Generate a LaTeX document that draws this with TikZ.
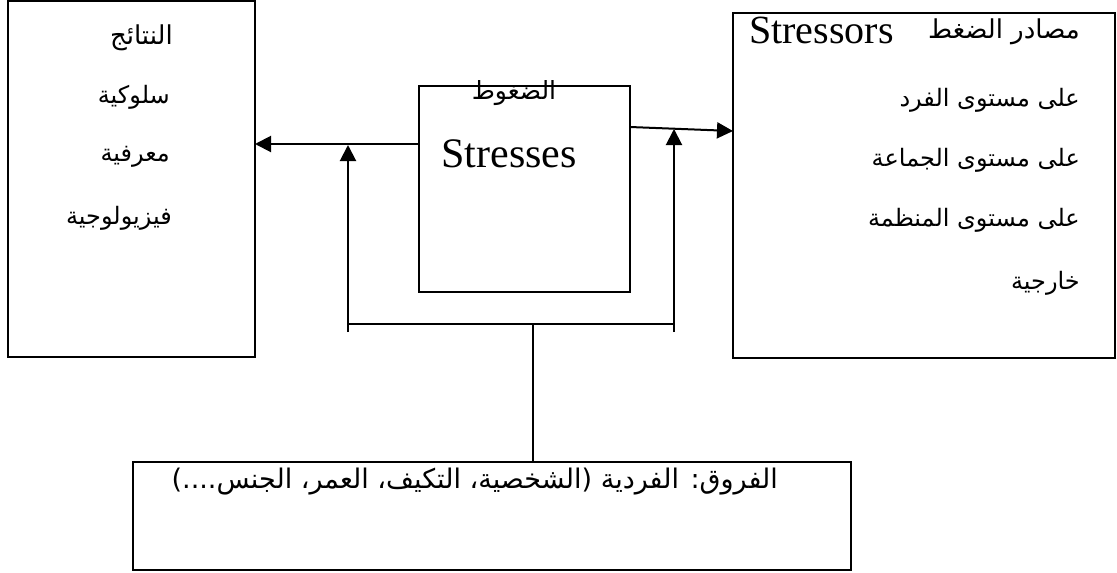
\documentclass[tikz,border=0pt]{standalone}
\usepackage{fontspec}
\setmainfont{Liberation Serif}
\newfontfamily\arabicfont[Script=Arabic]{DejaVu Sans}
\TeXXeTstate=1
\usetikzlibrary{arrows.meta}
\newcommand{\artext}[1]{\beginR #1\endR}
\begin{document}
\begin{tikzpicture}[x=1pt,y=-1pt,
  box/.style={draw,line width=1.8pt,inner sep=0pt,outer sep=0pt},
  link/.style={line width=1.6pt},
  arr/.style={line width=2pt,-{Triangle[length=16pt,width=16pt]}},
  ara/.style={font=\arabicfont\fontsize{24}{28}\selectfont,inner sep=0pt},
  lat/.style={font=\fontsize{42}{48}\selectfont,inner sep=0pt}]
\useasboundingbox (0,0) rectangle (1117,573);

% the four boxes
\node[box,minimum width=247pt,minimum height=356pt] (res) at (131.5,179) {};
\node[box,minimum width=211pt,minimum height=206pt] (str) at (524.5,189) {};
\node[box,minimum width=382pt,minimum height=345pt] (src) at (924,185.5) {};
\node[box,minimum width=718pt,minimum height=108pt] (dif) at (492,516) {};

% outcomes
\node[ara,anchor=east,font=\arabicfont\fontsize{26}{30}\selectfont] (r1) at (173,38) {\artext{النتائج}};
\node[ara,anchor=east] (r2) at (170,97) {\artext{سلوكية}};
\node[ara,anchor=east] (r3) at (170,157) {\artext{معرفية}};
\node[ara,anchor=east] (r4) at (172,218) {\artext{فيزيولوجية}};

% stresses
\node[ara,font=\arabicfont\fontsize{25}{29}\selectfont] (s1) at (514,93) {\artext{الضغوط}};
\node[lat] (s2) at (509,154) {Stresses};

% stressors
\node[lat,anchor=west,font=\fontsize{40}{46}\selectfont] (q0) at (749,30) {Stressors};
\node[ara,anchor=east,font=\arabicfont\fontsize{26}{30}\selectfont] (q1) at (1080,32) {\artext{مصادر الضغط}};
\node[ara,anchor=east] (q2) at (1080,100) {\artext{على مستوى الفرد}};
\node[ara,anchor=east] (q3) at (1080,160) {\artext{على مستوى الجماعة}};
\node[ara,anchor=east] (q4) at (1080,220) {\artext{على مستوى المنظمة}};
\node[ara,anchor=east] (q5) at (1080,283) {\artext{خارجية}};

% individual differences
\node[ara,anchor=east,font=\arabicfont\fontsize{27}{31}\selectfont] (d1) at (778,482) {\artext{الفروق: الفردية (الشخصية، التكيف، العمر، الجنس....)}};

% connectors
\coordinate (midL) at (419,144);
\coordinate (midR) at (630,127);
\coordinate (srcIn) at (733,131);
\coordinate (bl) at (348,332);
\coordinate (br) at (674,332);
\coordinate (jl) at (348,324);
\coordinate (jr) at (674,324);
\coordinate (jm) at (533,324);
\coordinate (tipL) at (348,145);
\coordinate (tipR) at (674,129);

\draw[arr] (midL) -- (midL -| res.east);
\draw[arr] (midR) -- (srcIn);
\draw[arr] (bl) -- (tipL);
\draw[arr] (br) -- (tipR);
\draw[link] (jl) -- (jr);
\draw[link] (jm) -- (jm |- dif.north);
\end{tikzpicture}
\end{document}
